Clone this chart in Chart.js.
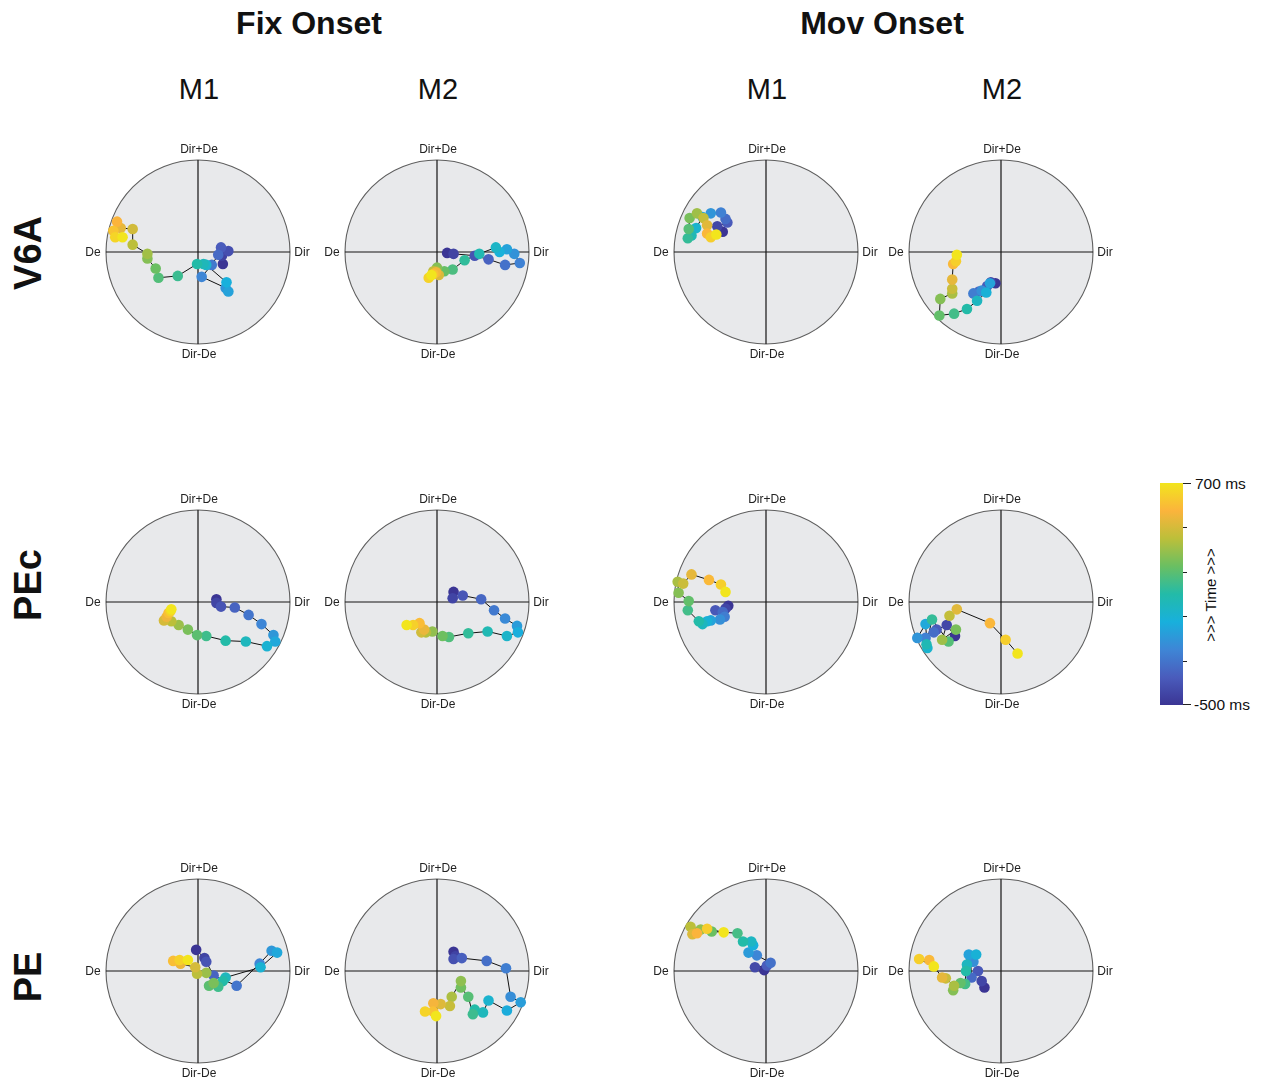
<!DOCTYPE html>
<html>
<head>
<meta charset="utf-8">
<script src="https://cdn.jsdelivr.net/npm/chart.js@4.4.1/dist/chart.umd.min.js"></script>
<style>
  html, body { margin: 0; padding: 0; background: #fff; }
  #fig { position: relative; width: 1265px; height: 1080px; font-family: "Liberation Sans", Arial, sans-serif; color: #111; overflow: hidden; }
  .t { position: absolute; white-space: nowrap; transform: translate(-50%, -50%); }
  .big { font-size: 32px; font-weight: bold; }
  .mk { font-size: 29px; }
  .row { font-size: 38px; font-weight: bold; transform: translate(-50%, -50%) rotate(-90deg); }
  .lab { font-size: 12px; color: #222; }
  canvas.p { position: absolute; }
  #cbar { position: absolute; left: 1160px; top: 483px; width: 23px; height: 222px; }
  .tick { position: absolute; background: #222; height: 1px; }
  .cbt { position: absolute; font-size: 15.5px; transform: translateY(-50%); white-space: nowrap; }
  .tm { position: absolute; font-size: 15px; white-space: nowrap; transform: translate(-50%, -50%) rotate(-90deg); }
</style>
</head>
<body>
<div id="fig">
  <div class="t big" style="left:309px;top:23px">Fix Onset</div>
  <div class="t big" style="left:882px;top:23px">Mov Onset</div>
  <div id="cbar"></div>
</div>
<script>
// Column / row headings
const epochs = ['Fix Onset', 'Mov Onset'];
const monkeys = ['M1', 'M2', 'M1', 'M2'];
const areas = ['V6A', 'PEc', 'PE'];
const axisLabels = { top: 'Dir+De', bottom: 'Dir-De', left: 'De', right: 'Dir' };
const timeRange = [-500, 700];  // ms, first and last sample

// Colour map stops (time: early -> late)
const mapStops = ['#3b3594', '#4a5cbc', '#3e86d6', '#18b0dc', '#23bba8', '#6abf62', '#bcbf3a', '#fbb43c', '#f2e51d'];

// Trajectories in the population space, [x, y] with unit circle radius
// V6A
const v6aFixM1 = [[0.27,-0.13],[0.26,-0.04],[0.33,0.01],[0.25,0.05],[0.22,-0.03],[0.15,-0.14],[0.04,-0.27],[0.30,-0.39],[0.33,-0.43],[0.31,-0.33],[0.09,-0.14],[0.06,-0.13],[-0.01,-0.13],[-0.22,-0.26],[-0.43,-0.28],[-0.46,-0.18],[-0.55,-0.07],[-0.55,-0.02],[-0.71,0.08],[-0.71,0.25],[-0.84,0.26],[-0.88,0.33],[-0.92,0.23],[-0.90,0.16],[-0.82,0.16]];
const v6aFixM2 = [[0.11,-0.01],[0.18,-0.02],[0.41,-0.04],[0.56,-0.08],[0.74,-0.14],[0.90,-0.12],[0.84,-0.02],[0.76,0.03],[0.68,0.00],[0.64,0.05],[0.46,-0.02],[0.30,-0.09],[0.17,-0.19],[0.08,-0.21],[0.00,-0.17],[-0.01,-0.21],[-0.04,-0.21],[0.02,-0.25],[-0.01,-0.22],[-0.04,-0.24],[-0.09,-0.28],[-0.06,-0.25]];
const v6aMovM1 = [[-0.47,0.22],[-0.53,0.28],[-0.42,0.32],[-0.44,0.36],[-0.49,0.43],[-0.60,0.42],[-0.69,0.38],[-0.76,0.26],[-0.81,0.18],[-0.85,0.15],[-0.84,0.25],[-0.83,0.37],[-0.75,0.42],[-0.68,0.37],[-0.64,0.29],[-0.64,0.20],[-0.60,0.16],[-0.54,0.19]];
const v6aMovM2 = [[-0.06,-0.34],[-0.11,-0.33],[-0.15,-0.37],[-0.24,-0.43],[-0.30,-0.45],[-0.21,-0.42],[-0.12,-0.34],[-0.16,-0.44],[-0.26,-0.53],[-0.37,-0.62],[-0.51,-0.67],[-0.67,-0.69],[-0.66,-0.51],[-0.53,-0.45],[-0.53,-0.40],[-0.53,-0.30],[-0.52,-0.13],[-0.49,-0.10],[-0.48,-0.03]];
// PEc
const pecFixM1 = [[0.20,0.03],[0.20,-0.01],[0.25,-0.05],[0.40,-0.06],[0.55,-0.14],[0.69,-0.24],[0.82,-0.36],[0.84,-0.43],[0.75,-0.48],[0.52,-0.43],[0.30,-0.42],[0.09,-0.37],[-0.01,-0.36],[-0.11,-0.30],[-0.21,-0.25],[-0.29,-0.21],[-0.37,-0.20],[-0.34,-0.16],[-0.32,-0.12],[-0.30,-0.10],[-0.29,-0.08]];
const pecFixM2 = [[0.18,0.11],[0.17,0.04],[0.28,0.07],[0.48,0.03],[0.62,-0.09],[0.74,-0.18],[0.87,-0.26],[0.88,-0.33],[0.76,-0.37],[0.55,-0.32],[0.34,-0.34],[0.13,-0.38],[0.06,-0.37],[-0.05,-0.32],[-0.12,-0.33],[-0.17,-0.33],[-0.14,-0.30],[-0.19,-0.23],[-0.26,-0.25],[-0.33,-0.25]];
const pecMovM1 = [[-0.41,-0.04],[-0.44,-0.07],[-0.55,-0.09],[-0.47,-0.11],[-0.45,-0.16],[-0.50,-0.19],[-0.60,-0.20],[-0.64,-0.21],[-0.69,-0.24],[-0.73,-0.21],[-0.85,-0.09],[-0.84,0.01],[-0.95,0.10],[-0.96,0.22],[-0.90,0.20],[-0.81,0.30],[-0.62,0.24],[-0.49,0.19],[-0.44,0.11]];
const pecMovM2 = [[-0.50,-0.37],[-0.59,-0.25],[-0.70,-0.30],[-0.73,-0.33],[-0.82,-0.39],[-0.91,-0.39],[-0.82,-0.24],[-0.80,-0.50],[-0.81,-0.46],[-0.75,-0.19],[-0.57,-0.43],[-0.49,-0.30],[-0.64,-0.41],[-0.56,-0.15],[-0.48,-0.08],[-0.12,-0.23],[0.05,-0.41],[0.18,-0.56]];
// PE
const peFixM1 = [[-0.02,0.23],[0.07,0.14],[0.09,0.10],[0.17,-0.05],[0.42,-0.16],[0.67,0.08],[0.80,0.22],[0.86,0.20],[0.68,0.04],[0.30,-0.07],[0.27,-0.11],[0.22,-0.17],[0.12,-0.16],[0.17,-0.13],[0.09,-0.02],[-0.01,-0.03],[-0.03,0.04],[-0.19,0.08],[-0.27,0.11],[-0.20,0.12],[-0.11,0.12]];
const peFixM2 = [[0.18,0.21],[0.20,0.16],[0.18,0.13],[0.27,0.14],[0.54,0.11],[0.75,0.03],[0.80,-0.28],[0.91,-0.34],[0.76,-0.43],[0.56,-0.32],[0.50,-0.45],[0.41,-0.42],[0.39,-0.47],[0.34,-0.28],[0.26,-0.18],[0.26,-0.11],[0.16,-0.28],[0.14,-0.38],[0.04,-0.36],[-0.04,-0.35],[-0.04,-0.44],[-0.13,-0.44],[-0.01,-0.49]];
const peMovM1 = [[-0.02,0.01],[-0.12,0.04],[0.01,0.06],[0.05,0.09],[-0.10,0.17],[-0.19,0.20],[-0.14,0.28],[-0.16,0.32],[-0.25,0.32],[-0.31,0.41],[-0.59,0.43],[-0.71,0.45],[-0.82,0.48],[-0.80,0.40],[-0.75,0.41],[-0.64,0.46],[-0.46,0.42]];
const peMovM2 = [[-0.18,-0.18],[-0.21,-0.11],[-0.25,0.00],[-0.32,-0.07],[-0.33,0.10],[-0.30,0.10],[-0.35,0.18],[-0.27,0.18],[-0.37,0.07],[-0.38,0.00],[-0.39,-0.14],[-0.44,-0.13],[-0.52,-0.21],[-0.51,-0.16],[-0.60,-0.08],[-0.64,-0.07],[-0.78,0.12],[-0.89,0.13],[-0.73,0.05]];

const panels = [
  [v6aFixM1, v6aFixM2, v6aMovM1, v6aMovM2],
  [pecFixM1, pecFixM2, pecMovM1, pecMovM2],
  [peFixM1, peFixM2, peMovM1, peMovM2]
];

// Layout of the grid (panel centres, disc radius)
const colX = [198, 437, 766, 1001];
const rowY = [252, 602, 971];
const R = 92, PAD = 8;

function hexToRgb(h) { const n = parseInt(h.slice(1), 16); return [(n >> 16) & 255, (n >> 8) & 255, n & 255]; }
const stopRgb = mapStops.map(hexToRgb);
function colourAt(f) {
  f = Math.max(0, Math.min(1, f));
  const s = f * (stopRgb.length - 1), i = Math.min(Math.floor(s), stopRgb.length - 2), u = s - i;
  const a = stopRgb[i], b = stopRgb[i + 1];
  return 'rgb(' + [0, 1, 2].map(k => Math.round(a[k] + (b[k] - a[k]) * u)).join(',') + ')';
}

// Grey disc with crosshair drawn behind each trajectory
const discPlugin = {
  id: 'disc',
  beforeDatasetsDraw(chart) {
    const { ctx, scales: { x, y } } = chart;
    const cx = x.getPixelForValue(0), cy = y.getPixelForValue(0);
    const r = x.getPixelForValue(1) - cx;
    ctx.save();
    ctx.beginPath();
    ctx.arc(cx, cy, r, 0, Math.PI * 2);
    ctx.fillStyle = '#e8e9eb';
    ctx.fill();
    ctx.lineWidth = 1.1;
    ctx.strokeStyle = '#5e5e5e';
    ctx.stroke();
    ctx.beginPath();
    ctx.moveTo(x.getPixelForValue(-1), cy); ctx.lineTo(x.getPixelForValue(1), cy);
    ctx.moveTo(cx, y.getPixelForValue(1)); ctx.lineTo(cx, y.getPixelForValue(-1));
    ctx.lineWidth = 1.2;
    ctx.strokeStyle = '#151515';
    ctx.stroke();
    ctx.restore();
  }
};

const fig = document.getElementById('fig');
function addText(cls, txt, x, y, extra) {
  const d = document.createElement('div');
  d.className = cls;
  d.textContent = txt;
  d.style.left = x + 'px';
  d.style.top = y + 'px';
  if (extra) Object.assign(d.style, extra);
  fig.appendChild(d);
  return d;
}

monkeys.forEach((m, c) => addText('t mk', m, colX[c] + 1, 89));
areas.forEach((a, r) => addText('t row', a, 28, [253, 585, 977][r]));

panels.forEach((rowData, r) => {
  rowData.forEach((pts, c) => {
    const cx = colX[c], cy = rowY[r];
    const cv = document.createElement('canvas');
    cv.className = 'p';
    const size = 2 * (R + PAD);
    cv.width = size; cv.height = size;
    cv.style.left = (cx - R - PAD) + 'px';
    cv.style.top = (cy - R - PAD) + 'px';
    fig.appendChild(cv);
    const n = pts.length;
    const cols = pts.map((_, i) => colourAt(i / (n - 1)));
    new Chart(cv, {
      type: 'scatter',
      data: {
        datasets: [{
          data: pts.map(([x, y]) => ({ x, y })),
          showLine: true,
          borderColor: '#111',
          borderWidth: 1,
          pointRadius: 5.3,
          pointBorderWidth: 0,
          pointBackgroundColor: cols,
          pointBorderColor: cols,
          clip: false
        }]
      },
      options: {
        responsive: false,
        animation: false,
        events: [],
        layout: { padding: PAD },
        scales: {
          x: { type: 'linear', min: -1, max: 1, display: false },
          y: { type: 'linear', min: -1, max: 1, display: false }
        },
        plugins: { legend: { display: false }, tooltip: { enabled: false } }
      },
      plugins: [discPlugin]
    });
    addText('t lab', axisLabels.top, cx + 1, cy - 103);
    addText('t lab', axisLabels.bottom, cx + 1, cy + 102);
    addText('t lab', axisLabels.left, cx - 105, cy);
    addText('t lab', axisLabels.right, cx + 104, cy);
  });
});

// Time colour bar
const bar = document.getElementById('cbar');
bar.style.background = 'linear-gradient(to top, ' + mapStops.map((h, i) => h + ' ' + (100 * i / (mapStops.length - 1)).toFixed(1) + '%').join(', ') + ')';
const barTop = 483, barH = 222, barRight = 1183;
function tick(y, len) {
  const d = document.createElement('div');
  d.className = 'tick';
  d.style.left = barRight + 'px';
  d.style.top = y + 'px';
  d.style.width = len + 'px';
  fig.appendChild(d);
}
tick(barTop, 8);
tick(barTop + barH - 1, 8);
for (let k = 1; k < 5; k++) tick(Math.round(barTop + barH * k / 5), 4);
addText('cbt', timeRange[1] + ' ms', 1195, barTop + 1);
addText('cbt', timeRange[0] + ' ms', 1194, barTop + barH);
addText('tm', '>>> Time >>>', 1210, 595);
</script>
</body>
</html>
